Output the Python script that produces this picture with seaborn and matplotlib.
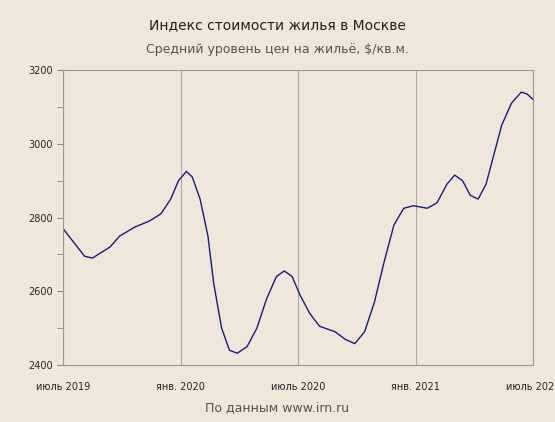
import matplotlib
matplotlib.use("Agg")
import matplotlib.pyplot as plt
import seaborn as sns
import pandas as pd

months = [0,1.1,1.5,2.4,2.9,3.7,4.4,5,5.5,5.9,6.3,6.6,7,7.4,7.7,8.1,8.5,8.9,9.4,9.9,10.4,10.9,11.3,11.7,12.1,12.6,13.1,13.9,14.4,14.9,15.4,15.9,16.4,16.9,17.4,17.9,18.6,19.1,19.6,20,20.4,20.8,21.2,21.6,22,22.4,22.9,23.4,23.7,24]
price = [2770,2695,2690,2720,2750,2775,2790,2810,2850,2900,2925,2910,2850,2750,2620,2500,2440,2432,2450,2500,2580,2640,2655,2640,2590,2540,2505,2490,2470,2458,2490,2570,2680,2780,2825,2832,2825,2840,2890,2915,2900,2860,2850,2890,2970,3050,3110,3140,3135,3120]
tick_pos = [0,6,12,18,24]
tick_labels = ["июль 2019","янв. 2020","июль 2020","янв. 2021","июль 2021"]
yticks = [2400,2600,2800,3000,3200]

bg = "#F0E6DA"
sns.set_style("white")
plt.rcParams['font.family'] = ['DejaVu Sans']
fig = plt.figure(figsize=(5.55,4.22), dpi=100, facecolor=bg)
ax = fig.add_axes([63/555, 1-365/422, 470/555, 295/422], facecolor=bg)
df = pd.DataFrame({"m": months, "p": price})
sns.lineplot(data=df, x="m", y="p", ax=ax, color="#1a1a80", linewidth=1)
ax.set_xlim(0,24); ax.set_ylim(2400,3200)
ax.set_xticks(tick_pos); ax.set_xticklabels(tick_labels, fontsize=7)
ax.set_yticks(yticks); ax.set_yticklabels([str(v) for v in yticks], fontsize=7)
ax.set_yticks(range(2500,3200,200), minor=True)
ax.tick_params(axis='y', which='both', left=True, length=4, color="#888")
ax.tick_params(axis='x', length=0, pad=12)
ax.set_xlabel(""); ax.set_ylabel("")
ax.grid(axis='x', color="#aaaaaa", linewidth=0.8)
for s in ax.spines.values():
    s.set_color("#999999"); s.set_linewidth(0.8)
ax.get_xticklabels()[-1].set_ha("center")
fig.text(0.5, 1-25/422, "Индекс стоимости жилья в Москве", ha="center", va="center", fontsize=10, color="#222")
fig.text(0.5, 1-50/422, "Средний уровень цен на жильё, $/кв.м.", ha="center", va="center", fontsize=9, color="#555")
fig.text(0.5, 1-408/422, "По данным www.irn.ru", ha="center", va="center", fontsize=9, color="#555")
fig.savefig("out.png", dpi=100, facecolor=bg)
